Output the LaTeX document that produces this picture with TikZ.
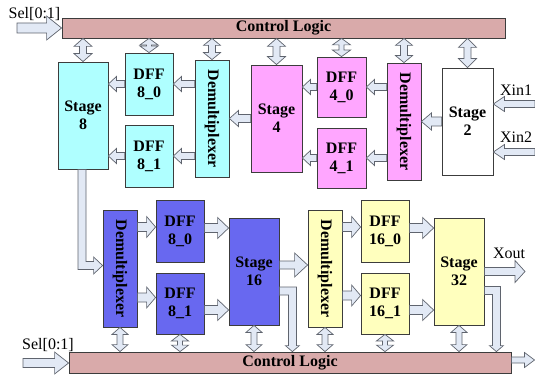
\documentclass[tikz,border=0pt]{standalone}
\usepackage{fontspec}
\setmainfont{Liberation Serif}
\usetikzlibrary{calc}

\definecolor{barfill}{RGB}{217,170,170}
\definecolor{cyanfill}{RGB}{175,255,255}
\definecolor{pinkfill}{RGB}{255,166,255}
\definecolor{bluefill}{RGB}{104,104,240}
\definecolor{yellowfill}{RGB}{255,255,190}
\definecolor{arrowfill}{RGB}{226,233,245}
\definecolor{arrowline}{RGB}{95,100,110}
\definecolor{edgeline}{RGB}{60,60,60}

\tikzset{
  blk/.style={draw=edgeline, line width=0.8pt, inner sep=0pt, align=center,
    font=\bfseries\fontsize{16}{18}\selectfont},
  stagebox/.style={blk, minimum width=50pt, minimum height=107pt},
  dffbox/.style={blk, minimum width=48pt, minimum height=62pt},
  demuxbox/.style={blk, minimum width=34pt, minimum height=117pt},
  barbox/.style={blk, fill=barfill, draw=edgeline},
  arrowshape/.style={draw=arrowline, fill=arrowfill, line width=0.7pt, line join=miter},
  lbl/.style={inner sep=0pt, font=\fontsize{16}{18}\selectfont}
}

% single block arrow: start, tip, shaft half width, head half width, head length
\newcommand\blockarrow[5]{%
  \path #1 coordinate (ba-s) #2 coordinate (ba-e);
  \path ($(ba-e)!#5!(ba-s)$) coordinate (ba-b);
  \draw[arrowshape] ($(ba-s)!#3!90:(ba-e)$) -- ($(ba-b)!#3!90:(ba-e)$)
    -- ($(ba-b)!#4!90:(ba-e)$) -- (ba-e) -- ($(ba-b)!#4!-90:(ba-e)$)
    -- ($(ba-b)!#3!-90:(ba-e)$) -- ($(ba-s)!#3!-90:(ba-e)$) -- cycle;
}
% double-headed block arrow: end, end, shaft half width, head half width, head length
\newcommand\twinarrow[5]{%
  \path #1 coordinate (da-s) #2 coordinate (da-e);
  \path ($(da-e)!#5!(da-s)$) coordinate (da-b) ($(da-s)!#5!(da-e)$) coordinate (da-a);
  \draw[arrowshape] (da-s) -- ($(da-a)!#4!90:(da-e)$) -- ($(da-a)!#3!90:(da-e)$)
    -- ($(da-b)!#3!90:(da-e)$) -- ($(da-b)!#4!90:(da-e)$) -- (da-e)
    -- ($(da-b)!#4!-90:(da-e)$) -- ($(da-b)!#3!-90:(da-e)$)
    -- ($(da-a)!#3!-90:(da-e)$) -- ($(da-a)!#4!-90:(da-e)$) -- cycle;
}

\begin{document}
\begin{tikzpicture}[x=1pt, y=-1pt]
\useasboundingbox (0,0) rectangle (535,377);

% control buses
\node[barbox, minimum width=443pt, minimum height=20pt] (barT) at (283.5,28) {Control Logic};
\node[barbox, minimum width=442pt, minimum height=21pt] (barB) at (290,362.5) {Control Logic};

% upper pipeline
\node[stagebox, fill=cyanfill, minimum height=107pt] (s8) at (83,115.5) {Stage\\8};
\node[dffbox, fill=cyanfill] (d80) at (149,84) {DFF\\8\_0};
\node[dffbox, fill=cyanfill] (d81) at (149,156) {DFF\\8\_1};
\node[demuxbox, fill=cyanfill] (dm1) at (212,118.5) {\rotatebox{-90}{Demultiplexer}};
\node[stagebox, fill=pinkfill, minimum width=51pt] (s4) at (276.5,118.5) {Stage\\4};
\node[dffbox, fill=pinkfill, minimum width=49pt, minimum height=60pt] (d40) at (341.5,87) {DFF\\4\_0};
\node[dffbox, fill=pinkfill, minimum width=49pt, minimum height=60pt] (d41) at (341.5,158) {DFF\\4\_1};
\node[demuxbox, fill=pinkfill] (dm2) at (404,121.5) {\rotatebox{-90}{Demultiplexer}};
\node[stagebox, fill=white, minimum width=51pt] (s2) at (467.5,121.5) {Stage\\2};

% lower pipeline
\node[demuxbox, fill=bluefill] (dm3) at (120,268.5) {\rotatebox{-90}{Demultiplexer}};
\node[dffbox, fill=bluefill] (b80) at (180,231) {DFF\\8\_0};
\node[dffbox, fill=bluefill, minimum height=61pt] (b81) at (180,303.5) {DFF\\8\_1};
\node[stagebox, fill=bluefill] (s16) at (254,271.5) {Stage\\16};
\node[demuxbox, fill=yellowfill] (dm4) at (325,268.5) {\rotatebox{-90}{Demultiplexer}};
\node[dffbox, fill=yellowfill] (y0) at (385,231) {DFF\\16\_0};
\node[dffbox, fill=yellowfill, minimum height=61pt] (y1) at (385,303.5) {DFF\\16\_1};
\node[stagebox, fill=yellowfill] (s32) at (459,271.5) {Stage\\32};

% labels
\node[lbl] (selT) at (34.5,14) {Sel[0:1]};
\node[lbl] (selB) at (48,345) {Sel[0:1]};
\node[lbl] (xin1) at (516,90) {Xin1};
\node[lbl] (xin2) at (516,137) {Xin2};
\node[lbl] (xout) at (509,253) {Xout};

% free ends of the external signals
\coordinate (selTin) at (17,28);
\coordinate (selBin) at (23,363);
\coordinate (xin1in) at (535,104);
\coordinate (xin2in) at (535,152);
\coordinate (xoutend) at (525,271.5);
\coordinate (busout) at (534.5,360);

% external inputs/outputs
\blockarrow{(selTin)}{(barT.west |- selTin)}{5pt}{12pt}{15pt}
\blockarrow{(selBin)}{(barB.west |- selBin)}{4.5pt}{11pt}{14pt}
\blockarrow{(xin1in)}{(s2.east |- xin1in)}{3.5pt}{7.5pt}{11pt}
\blockarrow{(xin2in)}{(s2.east |- xin2in)}{3.5pt}{7.5pt}{11pt}
\blockarrow{(s32.east)}{(xoutend)}{4pt}{11pt}{10pt}
\blockarrow{(barB.east |- busout)}{(busout)}{3pt}{7.5pt}{10pt}

% top bus to upper blocks
\twinarrow{(s8.north |- barT.south)}{(s8.north)}{3.5pt}{9pt}{8pt}
\twinarrow{(d80.north |- barT.south)}{(d80.north)}{2.5pt}{9pt}{6.5pt}
\twinarrow{(dm1.north |- barT.south)}{(dm1.north)}{3.5pt}{8.5pt}{7pt}
\twinarrow{(s4.north |- barT.south)}{(s4.north)}{3.5pt}{9pt}{8pt}
\twinarrow{(d40.north |- barT.south)}{(d40.north)}{2.5pt}{9pt}{6.5pt}
\twinarrow{(dm2.north |- barT.south)}{(dm2.north)}{3.5pt}{8.5pt}{7pt}
\twinarrow{(s2.north |- barT.south)}{(s2.north)}{3.5pt}{9pt}{9pt}

% lower blocks to bottom bus
\twinarrow{(dm3.south)}{(dm3.south |- barB.north)}{3pt}{8pt}{7pt}
\twinarrow{(b81.south)}{(b81.south |- barB.north)}{2.5pt}{8.5pt}{6.5pt}
\twinarrow{(s16.south)}{(s16.south |- barB.north)}{3pt}{8pt}{7pt}
\twinarrow{(dm4.south)}{(dm4.south |- barB.north)}{3pt}{8pt}{7pt}
\twinarrow{(y1.south)}{(y1.south |- barB.north)}{2.5pt}{8.5pt}{6.5pt}
\twinarrow{(s32.south)}{(s32.south |- barB.north)}{3pt}{8pt}{7pt}

% upper data path (right to left)
\blockarrow{(s2.west)}{(s2.west -| dm2.east)}{4.5pt}{8.5pt}{10pt}
\blockarrow{(dm2.west |- d40)}{(d40.east)}{3.5pt}{7.5pt}{8pt}
\blockarrow{(dm2.west |- d41)}{(d41.east)}{3.5pt}{7.5pt}{8pt}
\blockarrow{(d40.west)}{(d40.west -| s4.east)}{3.5pt}{7.5pt}{8pt}
\blockarrow{(d41.west)}{(d41.west -| s4.east)}{3.5pt}{7.5pt}{8pt}
\blockarrow{(s4.west)}{(s4.west -| dm1.east)}{4pt}{8pt}{9pt}
\blockarrow{(dm1.west |- d80)}{(d80.east)}{3.5pt}{7.5pt}{8pt}
\blockarrow{(dm1.west |- d81)}{(d81.east)}{3.5pt}{7.5pt}{8pt}
\blockarrow{(d80.west)}{(d80.west -| s8.east)}{3.5pt}{7.5pt}{8pt}
\blockarrow{(d81.west)}{(d81.west -| s8.east)}{3.5pt}{7.5pt}{8pt}

% Stage 8 down into the lower demultiplexer
\coordinate (e8) at ($(s8.south |- dm3.west)+(-1,-3)$);
\coordinate (t8) at (dm3.west |- e8);
\draw[arrowshape] ($(s8.south)+(-5,0)$) -- ($(e8)+(-4,4)$) -- ($(t8)+(-9,4)$)
  -- ($(t8)+(-9,8.5)$) -- (t8) -- ($(t8)+(-9,-8.5)$) -- ($(t8)+(-9,-4)$)
  -- ($(e8)+(4,-4)$) -- ($(s8.south)+(3,0)$) -- cycle;

% lower data path (left to right)
\blockarrow{($(dm3.east |- b80)+(0,-4)$)}{($(b80.west)+(0,-4)$)}{4.5pt}{10.5pt}{9pt}
\blockarrow{($(dm3.east |- b81)+(0,-6)$)}{($(b81.west)+(0,-6)$)}{4.5pt}{10.5pt}{9pt}
\blockarrow{($(b80.east)+(0,-3)$)}{($(b80.east -| s16.west)+(0,-3)$)}{4.5pt}{10.5pt}{11pt}
\blockarrow{($(b81.east)+(0,6.5)$)}{($(b81.east -| s16.west)+(0,6.5)$)}{4.5pt}{10.5pt}{11pt}
\blockarrow{($(s16.east)+(0,-6.5)$)}{($(s16.east -| dm4.west)+(0,-6.5)$)}{4pt}{12pt}{13pt}
\blockarrow{($(dm4.east |- y0)+(0,-4)$)}{($(y0.west)+(0,-4)$)}{4.5pt}{10.5pt}{9pt}
\blockarrow{($(dm4.east |- y1)+(0,-8)$)}{($(y1.west)+(0,-8)$)}{4.5pt}{10.5pt}{9pt}
\blockarrow{($(y0.east)+(0,-3)$)}{($(y0.east -| s32.west)+(0,-3)$)}{4.5pt}{10.5pt}{11pt}
\blockarrow{($(y1.east)+(0,6.5)$)}{($(y1.east -| s32.west)+(0,6.5)$)}{4.5pt}{10.5pt}{11pt}

% Stage 16 and Stage 32 feedback into the bottom bus
\coordinate (o16) at ($(s16.east)+(0,19.5)$);
\coordinate (c16) at ($(o16)+(13,0)$);
\coordinate (t16) at (c16 |- barB.north);
\draw[arrowshape] ($(o16)+(0,-4)$) -- ($(c16)+(4,-4)$) -- ($(t16)+(4,-6)$)
  -- ($(t16)+(7,-6)$) -- (t16) -- ($(t16)+(-7,-6)$) -- ($(t16)+(-4,-6)$)
  -- ($(c16)+(-4,4)$) -- ($(o16)+(0,4)$) -- cycle;
\coordinate (o32) at ($(s32.east)+(0,19)$);
\coordinate (c32) at ($(o32)+(12,0)$);
\coordinate (t32) at (c32 |- barB.north);
\draw[arrowshape] ($(o32)+(0,-4)$) -- ($(c32)+(4,-4)$) -- ($(t32)+(4,-6)$)
  -- ($(t32)+(7,-6)$) -- (t32) -- ($(t32)+(-7,-6)$) -- ($(t32)+(-4,-6)$)
  -- ($(c32)+(-4,4)$) -- ($(o32)+(0,4)$) -- cycle;
\end{tikzpicture}
\end{document}
